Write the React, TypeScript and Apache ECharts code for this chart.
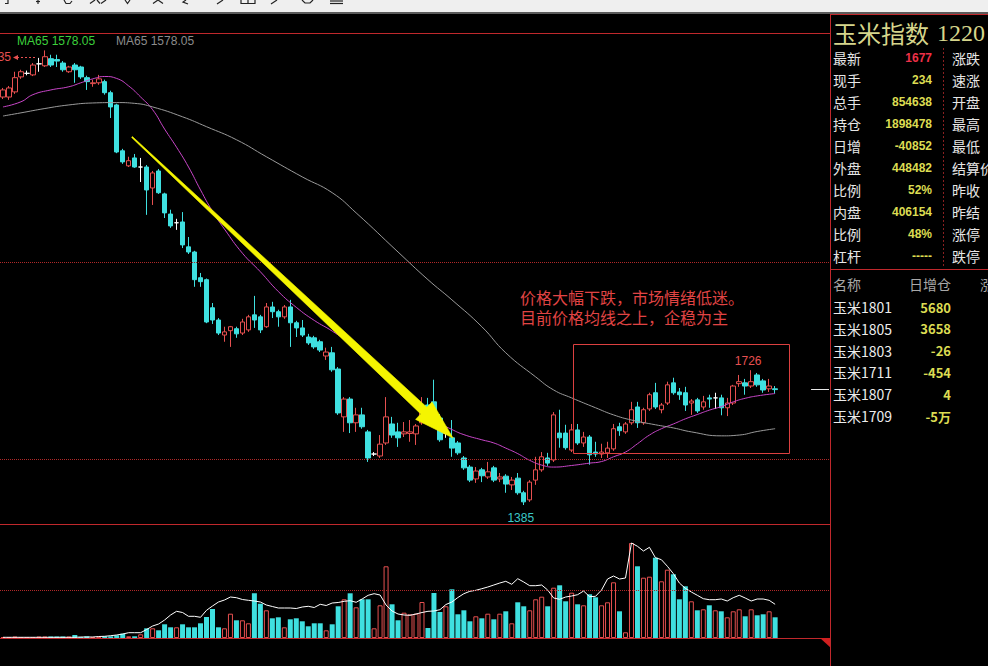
import React, { useEffect, useRef } from 'react';
import * as echarts from 'echarts';

// ---------- data ----------
const opens = [2417,2417,2430,2468,2477,2473,2501,2496,2514,2512,2503,2481,2498,2493,2466,2451,2453,2456,2428,2397,
2281,2243,2263,2240,2240,2187,2230,2172,2121,2099,2101,2038,2025,1960,1955,1884,1853,1815,1826,1831,
1820,1828,1866,1861,1836,1886,1874,1861,1886,1846,1833,1810,1808,1798,1762,1770,1729,1608,1653,1593,
1613,1570,1514,1509,1542,1590,1570,1565,1566,1565,1593,1638,1646,1605,1567,1555,1542,1504,1481,1451,
1474,1456,1479,1451,1458,1436,1453,1416,1398,1448,1474,1504,1499,1567,1567,1524,1575,1542,1557,1519,
1514,1517,1527,1583,1570,1593,1633,1593,1628,1669,1626,1643,1694,1671,1669,1643,1651,1633,1656,1656,
1656,1631,1643,1692,1694,1686,1714,1699,1679,1679];
const closes = [2435,2440,2466,2481,2477,2498,2501,2519,2498,2508,2486,2493,2486,2468,2456,2453,2463,2428,2392,2278,
2253,2256,2240,2240,2182,2225,2175,2124,2091,2099,2043,2025,1955,1950,1848,1853,1820,1823,1836,1818,
1848,1861,1853,1828,1886,1874,1861,1886,1846,1833,1815,1795,1785,1777,1772,1727,1618,1653,1593,1613,
1583,1504,1514,1539,1608,1562,1555,1570,1570,1585,1620,1626,1593,1550,1567,1529,1517,1479,1448,1471,
1459,1469,1448,1456,1438,1448,1416,1393,1443,1474,1507,1491,1613,1555,1530,1575,1542,1557,1512,1514,
1519,1529,1578,1573,1590,1626,1593,1626,1664,1633,1638,1689,1669,1664,1638,1648,1623,1646,1653,1656,
1631,1643,1686,1697,1686,1697,1689,1676,1686,1677];
const highs = [2440,2445,2481,2486,2484,2503,2516,2535,2524,2524,2508,2496,2503,2496,2471,2461,2473,2461,2433,2400,
2286,2266,2273,2263,2245,2230,2235,2175,2132,2109,2126,2063,2028,1972,1958,1896,1858,1836,1838,1836,
1856,1866,1914,1866,1896,1899,1879,1891,1904,1851,1853,1818,1813,1803,1783,1785,1734,1658,1658,1631,
1631,1575,1519,1562,1658,1608,1593,1595,1600,1590,1658,1656,1702,1615,1580,1600,1547,1509,1486,1481,
1479,1494,1484,1466,1463,1456,1466,1421,1448,1507,1519,1517,1620,1626,1588,1590,1590,1570,1562,1545,
1540,1545,1590,1593,1595,1646,1646,1631,1669,1694,1643,1697,1707,1681,1684,1653,1656,1661,1664,1669,
1664,1656,1689,1714,1704,1726,1719,1704,1704,1686];
const lows = [2412,2410,2425,2463,2472,2470,2481,2493,2493,2493,2481,2478,2453,2463,2435,2443,2448,2423,2364,2275,
2248,2240,2238,2202,2119,2144,2172,2111,2086,2081,2035,2020,1937,1937,1845,1843,1815,1798,1785,1808,
1815,1823,1833,1820,1833,1858,1836,1856,1785,1810,1810,1790,1780,1772,1752,1722,1613,1570,1567,1570,
1578,1494,1509,1504,1537,1555,1532,1557,1545,1537,1588,1618,1588,1545,1555,1507,1512,1474,1443,1441,
1443,1451,1443,1443,1416,1423,1411,1385,1393,1436,1469,1484,1494,1530,1525,1519,1537,1532,1487,1507,
1504,1504,1522,1560,1565,1588,1580,1588,1623,1628,1617,1638,1664,1651,1623,1613,1618,1626,1631,1628,
1612,1610,1638,1684,1664,1681,1684,1669,1671,1667];
// volume, 万手
const volumes = [1,1,1.5,0.7,0.7,0.7,1.5,1.5,1.5,1.5,1.5,1.5,3,1,1.7,0.7,0.7,1.7,1.7,2.7,
4.3,1.7,1.7,3.7,9.7,9.7,7.7,13.7,10.7,10.7,13.7,10.7,10.7,14.7,21,29,10.7,9.7,24.3,17.7,
17.7,14.7,44.7,34.3,27.7,19.7,20.7,10.7,18.7,19.7,16.7,11.7,14.7,14.7,7.7,13.7,31.7,38.7,44.7,30.7,
38.7,38.7,9.7,32.7,71.7,33.7,17.7,25.3,23.7,24.3,36,10,45,26,31.7,48.7,23.7,27.7,16.7,21.7,
19.7,24.3,18.7,24.3,26.7,14.7,35.7,31.7,27.7,38.7,41.3,31.7,50.3,52.7,36.7,45.3,33.7,32.7,43.7,40.7,
32.7,35.7,55.7,26.7,5.7,95,71.7,60.3,61.3,80.3,56.7,68.3,63.7,38.7,51.7,36.7,27.7,28.7,32.7,27.7,
26.7,20.7,26.7,28.7,21.7,28.7,22.7,23.7,26.7,20.7];
// open interest, 万手
const openInterest = [1.4,1.4,1.4,1.4,1.4,1.4,1.4,1.4,1.4,1.4,1.4,1.4,1.4,2,2,2,3,3.4,4.6,6,
8,10.6,10.6,10.6,17,24,28,36,46,53.4,51,43.4,43.4,41.4,55.4,64,72,76,82,80.6,
77,75.4,74,72,66,63,60,60,60,59,62,63.4,61,67.4,65,70,71,73.4,74.6,71.4,
78,85.4,88.6,86,66,54,48,46,45.4,48,51,53.4,54,56.6,67,72,81,88.6,93.4,95.4,
98.6,102,106,110,113.4,107.4,118.6,112,104.6,104.6,106,96,80,77.4,82,84,86.6,94,82.6,83.4,
96,118,124,118,120,190,183.4,174,181.4,160.6,156.6,143.4,128.6,110,99.4,92,85.4,78.6,76.6,76.6,
78,74,80.6,85.4,80,74,78,78,75.4,67.4];
// moving averages: [bar index, value]
const ma20Points = [[0,2392],[3,2405],[5,2423],[8,2435],[11,2443],[13,2453],[15,2463],[17,2469],[19,2464],[21,2445],
[23,2417],[25,2385],[27,2336],[29,2290],[31,2240],[33,2182],[35,2128],[37,2083],[40,2022],[43,1975],[46,1925],
[49,1885],[52,1852],[55,1825],[58,1793],[61,1752],[64,1708],[67,1662],[70,1624],[73,1592],[75,1576],[77,1563],
[80,1550],[82,1542],[84,1529],[86,1515],[88,1498],[90,1486],[92,1481],[95,1485],[98,1491],[100,1495],[102,1507],
[104,1519],[106,1540],[108,1562],[110,1578],[112,1590],[114,1603],[116,1614],[118,1625],[120,1634],[122,1646],
[124,1655],[126,1661],[129,1667]];
const ma65Points = [[0,2369],[3,2377],[7,2388],[11,2397],[15,2402],[19,2403],[22,2401],[25,2392],[30,2367],[34,2342],
[39,2309],[44,2266],[50,2215],[55,2175],[59,2124],[66,2025],[71,1955],[75,1904],[80,1836],[84,1770],[89,1709],
[92,1676],[95,1656],[99,1631],[102,1613],[105,1600],[109,1588],[112,1580],[115,1570],[120,1560],[123,1562],
[126,1571],[129,1578.05]];
const slotCount = 139;
const barSlots = Array.from({ length: slotCount }, (_, i) => String(i + 1));

const infoLabels = ['最新', '现手', '总手', '持仓', '日增', '外盘', '比例', '内盘', '比例', '杠杆'];
const infoValues = ['1677', '234', '854638', '1898478', '-40852', '448482', '52%', '406154', '48%', '-----'];
const infoLabels2 = ['涨跌', '速涨', '开盘', '最高', '最低', '结算价', '昨收', '昨结', '涨停', '跌停'];
const contracts = ['玉米1801', '玉米1805', '玉米1803', '玉米1711', '玉米1807', '玉米1709'];
const contractOI = ['5680', '3658', '-26', '-454', '4', '-5万'];
const lastPrice = 1677;
const highMark = 1726;
const lowMark = 1385;

const RED = '#e65050';
const CYAN = '#3fe0e0';
const FRAME = '#c0282c';
const CJK = "'Noto Sans CJK SC', sans-serif";
const SANS = "'Liberation Sans', Arial, sans-serif";

function txt(text: string, x: number, y: number, color: string, size: number, family: string,
  weight: string = 'normal', align: string = 'left', vAlign: string = 'middle', lineHeight?: number) {
  return {
    type: 'text', silent: true, z: 20,
    style: {
      text, x, y, fill: color, fontSize: size, fontFamily: family, fontWeight: weight,
      align, verticalAlign: vAlign, textAlign: align, textVerticalAlign: vAlign, lineHeight,
    },
  };
}
function hline(x1: number, x2: number, y: number, color: string, w = 1, dash?: number[]) {
  return { type: 'line', silent: true, z: 15, shape: { x1, y1: y, x2, y2: y }, style: { stroke: color, lineWidth: w, lineDash: dash } };
}
function vline(x: number, y1: number, y2: number, color: string, w = 1, dash?: number[]) {
  return { type: 'line', silent: true, z: 15, shape: { x1: x, y1, x2: x, y2 }, style: { stroke: color, lineWidth: w, lineDash: dash } };
}

// bottoms of the cut-off toolbar icons
const toolbarStrokes: number[][][] = [
  [[8, 0], [8, 3.5], [5, 3.5]],
  [[38, 0], [38, 4]], [[36, 1.5], [40, 1.5]],
  [[64, 0], [66, 3.5], [70, 3.5], [72, 1]],
  [[90, 3.5], [95, 0]], [[97, 0], [100, 3.5]], [[101, 3.5], [106, 0]],
  [[125, 0], [127.5, 3.5], [130, 0]],
  [[153, 3.5], [158, 0], [163, 3.5]],
  [[186, 0], [183, 2], [188, 4]],
  [[223, 0], [217, 4]],
  [[241, 0], [241, 3.5], [255, 3.5], [255, 0]], [[248, 0], [248, 3.5]],
  [[277, 0], [271, 4]],
  [[302, 0], [305, 3], [310, 3], [313, 0]],
  [[330, 1], [343, 1]], [[330, 3.5], [343, 3.5]],
];

export default function App() {
  const ref = useRef<HTMLDivElement>(null);
  useEffect(() => {
    if (!ref.current) return;
    const chart = echarts.init(ref.current, undefined, { renderer: 'svg' });

    const candleData = opens.map((o, i) => {
      const item: any = { value: [o, closes[i], lows[i], highs[i]] };
      if (o === closes[i]) item.itemStyle = { color: '#ffffff', color0: '#ffffff', borderColor: '#ffffff', borderColor0: '#ffffff' };
      return item;
    });
    const volData = volumes.map((v, i) => closes[i] >= opens[i]
      ? { value: v, itemStyle: { color: '#000000', borderColor: RED, borderWidth: 1 } }
      : { value: v, itemStyle: { color: CYAN } });

    const graphic: any[] = [];
    // toolbar strip at the top
    graphic.push({ type: 'rect', silent: true, z: 14, shape: { x: 0, y: 0, width: 988, height: 12 }, style: { fill: '#efefef' } });
    graphic.push(hline(0, 988, 13, '#5a5a5a', 2));
    toolbarStrokes.forEach((pts) => graphic.push({
      type: 'polyline', silent: true, z: 16, shape: { points: pts }, style: { stroke: '#222222', lineWidth: 1.2, fill: 'none' },
    }));
    // frame lines
    graphic.push(hline(0, 830, 33.5, FRAME));
    graphic.push(hline(0, 830, 524.5, FRAME));
    graphic.push(hline(0, 821, 638.5, FRAME));
    graphic.push({ type: 'polygon', silent: true, z: 15, shape: { points: [[820, 638], [831, 638], [831, 648]] }, style: { fill: '#d02020' } });
    graphic.push(vline(830.5, 14, 666, FRAME));
    graphic.push(hline(830, 988, 14.5, FRAME));
    graphic.push(hline(830, 988, 269.5, FRAME));
    graphic.push(vline(943.5, 48, 266, '#8a2020', 1, [2, 2]));
    // legends
    graphic.push(txt('MA65 1578.05', 17, 41, '#3cd03c', 12, SANS));
    graphic.push(txt('MA65 1578.05', 116, 41, '#8c8c8c', 12, SANS));
    // highest mark at the left
    graphic.push(txt('2535', 11, 57, RED, 12, SANS, 'normal', 'right'));
    graphic.push(hline(17, 37, 57.5, RED, 1, [2, 2]));
    graphic.push({ type: 'polygon', silent: true, z: 20, shape: { points: [[13, 57.5], [18, 55], [18, 60]] }, style: { fill: RED } });
    // yellow arrow
    graphic.push({
      type: 'polygon', silent: true, z: 30,
      shape: { points: [[132.4, 136.6], [426.9, 407.3], [432, 401.9], [453, 438], [415.6, 419.4], [420.7, 413.9], [131.6, 137.4]] },
      style: { fill: '#f5f500', stroke: '#f5f500', lineWidth: 0.6 },
    });
    // annotation
    graphic.push(txt('价格大幅下跌，市场情绪低迷。\n目前价格均线之上，企稳为主', 520, 287, '#e04444', 16, CJK, 'normal', 'left', 'top', 20));
    graphic.push({ type: 'rect', silent: true, z: 25, shape: { x: 573.5, y: 344.5, width: 216, height: 109 }, style: { fill: 'none', stroke: '#dc4040', lineWidth: 1 } });
    // right panel
    graphic.push(txt('玉米指数', 833, 32, '#d6d68c', 24, CJK));
    graphic.push(txt('1220', 937, 33, '#d6d68c', 24, "'Liberation Serif', serif"));
    infoLabels.forEach((t, k) => graphic.push(txt(t, 833, 58 + 22 * k, '#e6e6e6', 14, CJK)));
    infoValues.forEach((t, k) => graphic.push(txt(t, 932, 58 + 22 * k, k === 0 ? '#ee3048' : '#dcdc52', 12, SANS, 'bold', 'right')));
    infoLabels2.forEach((t, k) => graphic.push(txt(t, 952, 58 + 22 * k, '#e6e6e6', 14, CJK)));
    graphic.push(txt('名称', 833, 284, '#a8a8a8', 14, CJK));
    graphic.push(txt('日增仓', 951, 284, '#a8a8a8', 14, CJK, 'normal', 'right'));
    graphic.push(txt('涨幅', 980, 284, '#a8a8a8', 14, CJK));
    contracts.forEach((t, k) => graphic.push(txt(t, 833, 307 + 21.8 * k, '#ececec', 14, CJK)));
    contractOI.forEach((t, k) => graphic.push(txt(t, 951, 307 + 21.8 * k, '#dcdc52', 13, CJK, 'bold', 'right')));

    const option: any = {
      backgroundColor: '#000000',
      animation: false,
      grid: [
        { left: -2, width: 834, top: 33, height: 491 },
        { left: -2, width: 834, top: 524, height: 114 },
      ],
      xAxis: [
        { type: 'category', gridIndex: 0, data: barSlots, show: false },
        { type: 'category', gridIndex: 1, data: barSlots, show: false },
      ],
      yAxis: [
        { type: 'value', gridIndex: 0, min: 1337, max: 2579, show: false, splitLine: { show: false } },
        { type: 'value', gridIndex: 1, min: 0, max: 114, show: false, splitLine: { show: false } },
        { type: 'value', gridIndex: 1, min: 0, max: 228, show: false, splitLine: { show: false } },
      ],
      series: [
        {
          type: 'candlestick', xAxisIndex: 0, yAxisIndex: 0, barWidth: 5, data: candleData,
          itemStyle: { color: '#000000', color0: CYAN, borderColor: RED, borderColor0: CYAN, borderWidth: 1 },
          markLine: {
            silent: true, symbol: 'none', label: { show: false },
            lineStyle: { color: '#b02828', type: 'dotted', width: 1 },
            data: [
              { yAxis: 2000 }, { yAxis: 1500 },
              [{ coord: [135, lastPrice], lineStyle: { color: '#e8e8e8', type: 'solid', width: 1 } }, { coord: [138, lastPrice] }],
            ],
          },
          markPoint: {
            silent: true, symbol: 'circle', symbolSize: 1, itemStyle: { color: 'rgba(0,0,0,0)' },
            data: [
              { coord: [125, highMark], value: highMark, label: { show: true, position: 'top', distance: 3, offset: [-3, 0], color: RED, fontSize: 12, fontFamily: SANS, formatter: String(highMark) } },
              { coord: [87, lowMark], value: lowMark, label: { show: true, position: 'bottom', distance: 6, offset: [-3, 0], color: '#3cc8c8', fontSize: 12, fontFamily: SANS, formatter: String(lowMark) } },
            ],
          },
        },
        {
          type: 'line', xAxisIndex: 0, yAxisIndex: 0, data: ma20Points, smooth: true, showSymbol: false,
          lineStyle: { color: '#c846c8', width: 1 }, z: 3,
        },
        {
          type: 'line', xAxisIndex: 0, yAxisIndex: 0, data: ma65Points, smooth: true, showSymbol: false,
          lineStyle: { color: '#9a9a9a', width: 1 }, z: 3,
        },
        {
          type: 'bar', xAxisIndex: 1, yAxisIndex: 1, barWidth: 5, data: volData,
          markLine: {
            silent: true, symbol: 'none', label: { show: false },
            lineStyle: { color: '#b02828', type: 'dotted', width: 1 },
            data: [{ yAxis: 48 }],
          },
        },
        {
          type: 'line', xAxisIndex: 1, yAxisIndex: 2, data: openInterest, showSymbol: false,
          lineStyle: { color: '#ffffff', width: 1 }, z: 4,
        },
      ],
      graphic,
    };
    chart.setOption(option);
    return () => chart.dispose();
  }, []);
  return <div ref={ref} style={{ position: 'fixed', left: 0, top: 0, width: 988, height: 666, background: '#000' }} />;
}
